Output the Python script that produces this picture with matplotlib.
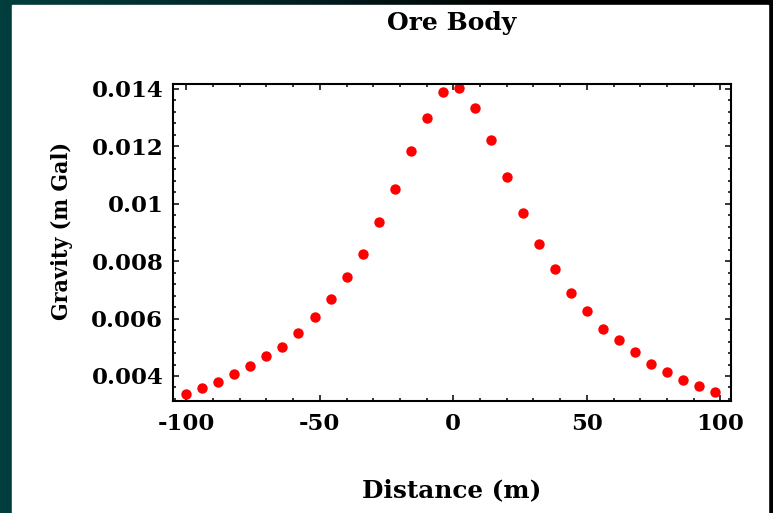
import matplotlib
matplotlib.use("Agg")
import matplotlib.pyplot as plt
import numpy as np
from matplotlib.colors import LinearSegmentedColormap
from matplotlib.patches import Rectangle
from matplotlib.ticker import MultipleLocator

# gravity profile over the ore body, sampled every 6 m
distance = [-100, -94, -88, -82, -76, -70, -64, -58, -52, -46, -40, -34,
            -28, -22, -16, -10, -4, 2, 8, 14, 20, 26, 32, 38, 44, 50,
            56, 62, 68, 74, 80, 86, 92, 98]
gravity = [0.003374, 0.003593, 0.003802, 0.004070, 0.004348, 0.004685,
           0.005020, 0.005506, 0.006041, 0.006667, 0.007433, 0.008243,
           0.009346, 0.010515, 0.011816, 0.012974, 0.013868, 0.014007,
           0.013311, 0.012219, 0.010922, 0.009680, 0.008602, 0.007711,
           0.006877, 0.006261, 0.005645, 0.005242, 0.004824, 0.004407,
           0.004129, 0.003861, 0.003663, 0.003443]

xticks = [-100, -50, 0, 50, 100]
yticks = [0.004, 0.006, 0.008, 0.010, 0.012, 0.014]
ylabels = ['0.004', '0.006', '0.008', '0.01', '0.012', '0.014']

W, H = 773, 513
fig = plt.figure(figsize=(W / 100, H / 100), dpi=100)
fnt = 'DejaVu Serif'

# slide-style backdrop: teal fading to black, white page on top
bg = fig.add_axes([0, 0, 1, 1], zorder=-2)
cm = LinearSegmentedColormap.from_list('bgc', ['#023e3e', '#012424', '#000000', '#000000'])
grad = np.linspace(0, 1, 256).reshape(1, -1)
bg.imshow(grad, extent=[0, 1, 0, 1], aspect='auto', cmap=cm)
bg.add_patch(Rectangle((12 / W, 0), (768 - 12) / W, (H - 5) / H, color='white'))
bg.set_xlim(0, 1)
bg.set_ylim(0, 1)
bg.axis('off')

ax = fig.add_axes([173 / W, 1 - 401 / H, (731 - 173) / W, (401 - 84) / H])
ax.plot(distance, gravity, 'o', color='#ff0000', markersize=7.5, markeredgewidth=0)

ax.set_xlim(-105, 104)
ax.set_ylim(0.00313, 0.01416)
ax.set_xticks(xticks)
ax.set_xticklabels([str(v) for v in xticks])
ax.set_yticks(yticks)
ax.set_yticklabels(ylabels)
ax.xaxis.set_minor_locator(MultipleLocator(10))
ax.yaxis.set_minor_locator(MultipleLocator(0.0004))

ax.tick_params(which='both', direction='in', top=True, right=True, width=1.1, color='black')
ax.tick_params(which='major', length=4.5, labelsize=16.5, pad=7)
ax.tick_params(which='minor', length=2.5)
ax.tick_params(axis='x', which='major', pad=9)
for lab in ax.get_xticklabels() + ax.get_yticklabels():
    lab.set_fontfamily(fnt)
    lab.set_fontweight('bold')
for s in ax.spines.values():
    s.set_linewidth(1.5)

fig.text(452 / W, 1 - 23 / H, 'Ore Body', ha='center', va='center',
         fontsize=18, fontweight='bold', family=fnt)
fig.text(452 / W, 1 - 490 / H, 'Distance (m)', ha='center', va='center',
         fontsize=17.8, fontweight='bold', family=fnt)
fig.text(62 / W, 1 - 231 / H, 'Gravity (m Gal)', ha='center', va='center',
         rotation=90, fontsize=16.5, fontweight='bold', family=fnt,
         fontstretch='condensed')

fig.savefig('out.png', dpi=100)
